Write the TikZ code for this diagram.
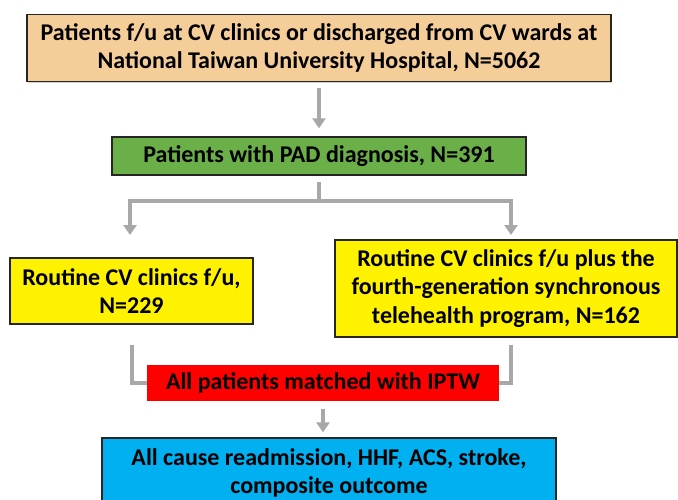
\documentclass[tikz,border=0pt]{standalone}
\usepackage{fontspec}
\setmainfont{Carlito}
\usetikzlibrary{arrows.meta,shadows}
\definecolor{peach}{HTML}{F5CD98}
\definecolor{padgreen}{HTML}{6AAF47}
\definecolor{skyblue}{HTML}{00B0F0}
\definecolor{linkgray}{HTML}{A8A8A8}
\begin{document}
\begin{tikzpicture}[x=1pt,y=-1pt,->,>={Triangle[length=10pt,width=13pt]},
  box/.style={draw=black!85,line width=1.3pt,align=center,inner sep=0pt,
    font=\fontsize{24}{28.5}\selectfont\bfseries,
    drop shadow={shadow xshift=1.2pt,shadow yshift=-1.2pt,fill=black!35}},
  plain box/.style={align=center,inner sep=0pt,font=\fontsize{24}{28.5}\selectfont\bfseries},
  link/.style={draw=linkgray,line width=4pt}]

  \useasboundingbox (0,0) rectangle (678,499);

  % boxes
  \node[box,fill=peach,minimum width=584pt,minimum height=67pt] (cohort) at (319,48)
    {Patients f/u at CV clinics or discharged from CV wards at\\National Taiwan University Hospital, N=5062};
  \node[box,fill=padgreen,minimum width=414pt,minimum height=38pt] (pad) at (319,156)
    {Patients with PAD diagnosis, N=391};
  \node[box,fill=yellow,minimum width=243pt,minimum height=66pt] (routine) at (131.5,291)
    {Routine CV clinics f/u,\\N=229};
  \node[box,fill=yellow,minimum width=342pt,minimum height=97pt] (telehealth) at (506,288.5)
    {Routine CV clinics f/u plus the\\fourth-generation synchronous\\telehealth program, N=162};
  \node[plain box,fill=red,minimum width=352pt,minimum height=36pt] (matched) at (323,383)
    {All patients matched with IPTW};
  \node[box,fill=skyblue,minimum width=454pt,minimum height=70pt] (outcome) at (329,473)
    {All cause readmission, HHF, ACS, stroke,\\composite outcome};

  \coordinate (split) at (319,201);
  \coordinate (lefttip) at (130,235);
  \coordinate (righttip) at (511,235);

  % connectors
  \draw[link,shorten <=6pt,shorten >=8pt] (cohort.south) -- (cohort.south |- pad.north);
  \draw[link,-,shorten <=6pt] (pad.south) -- (split);
  \draw[link] (split) -| (lefttip);
  \draw[link] (split) -| (righttip);
  \draw[link,-,shorten <=20pt] (routine.south) |- (matched.west);
  \draw[link,-,shorten <=7pt] (telehealth.south -| righttip) |- (matched.east);
  \draw[link,shorten <=8pt,shorten >=5pt] (matched.south) -- (matched.south |- outcome.north);
\end{tikzpicture}
\end{document}
